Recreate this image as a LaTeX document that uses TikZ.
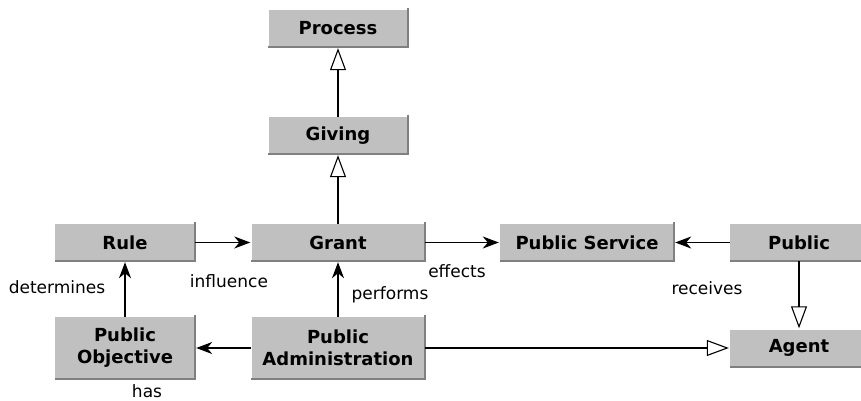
\documentclass[tikz,border=0pt]{standalone}
\usepackage{fontspec}
\setmainfont{DejaVu Sans}
\usetikzlibrary{positioning,arrows.meta}
\definecolor{boxgray}{RGB}{192,192,192}
\definecolor{edgegray}{RGB}{128,128,128}

\begin{document}
\begin{tikzpicture}[x=1pt,y=-1pt,
  cls/.style={fill=boxgray,inner sep=0pt,minimum height=37pt,font=\fontsize{18}{22}\selectfont\bfseries,align=center},
  lbl/.style={inner sep=0pt,font=\fontsize{17}{19}\selectfont},
  assoc/.style={line width=1.1pt,-{Stealth[length=16pt,width=12pt,inset=5pt]},shorten >=1pt},
  isa/.style={line width=1.1pt,-{Triangle[open,length=22pt,width=16pt]},shorten >=1pt}]
\useasboundingbox (0,0) rectangle (861,401);
\node[cls,minimum width=139pt] (process) at (338,28.5) {Process};
\node[cls,minimum width=139pt] (giving) at (338,135.5) {Giving};
\node[cls,minimum width=173pt] (grant) at (338,242.5) {Grant};
\node[cls,minimum width=140pt] (rule) at (125,242.5) {Rule};
\node[cls,minimum width=174pt] (service) at (587,242.5) {Public Service};
\node[cls,minimum width=138pt] (public) at (799,242.5) {Public};
\node[cls,minimum width=140pt,minimum height=62pt] (objective) at (125,348) {Public\\Objective};
\node[cls,minimum width=173pt,minimum height=62pt] (admin) at (338,348) {Public\\Administration};
\node[cls,minimum width=138pt] (agent) at (799,348) {Agent};
% shadow edges
\foreach \n in {process,giving,grant,rule,service,public,objective,admin,agent}
  \draw[edgegray,line width=2pt] (\n.south west) -- (\n.south east) -- ([yshift=2pt]\n.north east);
% connectors
\draw[isa] (giving) -- (process);
\draw[isa] (grant) -- (giving);
\draw[assoc] (rule) -- (grant);
\draw[assoc] (grant) -- (service);
\draw[assoc] (public) -- (service);
\draw[assoc] (objective) -- (rule);
\draw[assoc] (admin) -- (grant);
\draw[assoc] (admin) -- (objective);
\draw[isa] (admin) -- (agent);
\draw[isa] (public) -- (agent);
% labels
\node[lbl] (determines) at (57,287) {determines};
\node[lbl] (influence) at (229,281) {influence};
\node[lbl] (effects) at (457,271) {effects};
\node[lbl] (performs) at (390,295) {performs};
\node[lbl] (receives) at (707,288) {receives};
\node[lbl] (has) at (147,391) {has};
\end{tikzpicture}
\end{document}
